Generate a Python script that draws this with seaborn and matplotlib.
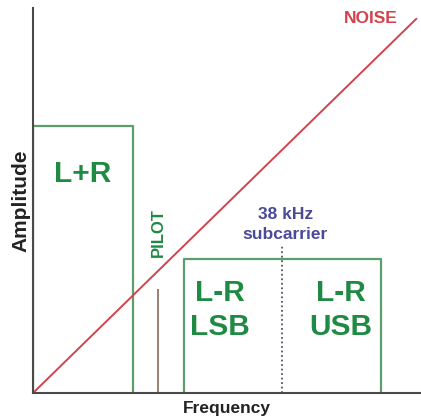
import matplotlib
matplotlib.use("Agg")
import matplotlib.pyplot as plt
import seaborn as sns
import pandas as pd

# Spectrum of an FM stereo multiplex signal (kHz, relative amplitude)
lpr_band = [0, 15.3]          # L+R audio
lpr_level = 1.0
pilot_freq = 19.1
pilot_level = 0.39
lmr_band = [23.0, 53.1]       # L-R DSB around subcarrier
lmr_level = 0.5
subcarrier_freq = 38.0
subcarrier_level = 0.55
noise_freq = [0, 58.5]
noise_level = [0, 1.40]

green = "#1f8a43"
box_green = "#5c9e6c"
red = "#d2434d"
blue = "#4a4a98"
axis_gray = "#4a4a4a"

sns.set_theme(style="white")
plt.rcParams['font.family'] = ['Liberation Sans', 'DejaVu Sans']

fig = plt.figure(figsize=(4.21, 4.18), dpi=100)
ax = fig.add_axes([33 / 421, 25 / 418, 388 / 421, 385 / 418])


def box_outline(band, level):
    return pd.DataFrame({
        "freq": [band[0], band[0], band[1], band[1]],
        "amp": [0, level, level, 0],
    })


lpr = box_outline(lpr_band, lpr_level)
lmr = box_outline(lmr_band, lmr_level)
sns.lineplot(data=lpr, x="freq", y="amp", sort=False, estimator=None,
             color=box_green, linewidth=1.6, ax=ax)
sns.lineplot(data=lmr, x="freq", y="amp", sort=False, estimator=None,
             color=box_green, linewidth=1.6, ax=ax)

# pilot tone
ax.vlines(pilot_freq, 0, pilot_level, color="#8a6a5a", linewidth=1.2)

# subcarrier marker (suppressed carrier)
ax.plot([subcarrier_freq, subcarrier_freq], [0, subcarrier_level],
        linestyle=(0, (1, 1.5)), color="#55556a", linewidth=1.3)

# noise rising with frequency
sns.lineplot(x=noise_freq, y=noise_level, color=red, linewidth=1.4, ax=ax)

# labels
ax.text(7.5, 0.82, "L+R", color=green, fontsize=21.5, fontweight="bold",
        ha="center", va="center")
ax.text(19.1, 0.60, "PILOT", color=green, fontsize=12, fontweight="bold",
        rotation=90, ha="center", va="center")
ax.text(38.5, 0.63, "38 kHz\nsubcarrier", color=blue, fontsize=12.5,
        fontweight="bold", ha="center", va="center", linespacing=1.35)
ax.text(28.5, 0.31, "L-R\nLSB", color=green, fontsize=21.5, fontweight="bold",
        ha="center", va="center", linespacing=1.27)
ax.text(46.9, 0.31, "L-R\nUSB", color=green, fontsize=21.5, fontweight="bold",
        ha="center", va="center", linespacing=1.27)
ax.text(51.5, 1.40, "NOISE", color=red, fontsize=12.5, fontweight="bold",
        ha="center", va="center")

ax.set_xlim(0, 59.2)
ax.set_ylim(0, 1.44)
ax.set_xticks([])
ax.set_yticks([])
ax.set_xlabel("Frequency", fontsize=12.5, fontweight="bold", color="#222222",
              labelpad=6)
ax.set_ylabel("Amplitude", fontsize=15, fontweight="bold", color="#222222",
              labelpad=2)

for side in ["top", "right"]:
    ax.spines[side].set_visible(False)
for side in ["left", "bottom"]:
    ax.spines[side].set_color(axis_gray)
    ax.spines[side].set_linewidth(1.5)

fig.savefig("out.png", dpi=100)
plt.close(fig)
